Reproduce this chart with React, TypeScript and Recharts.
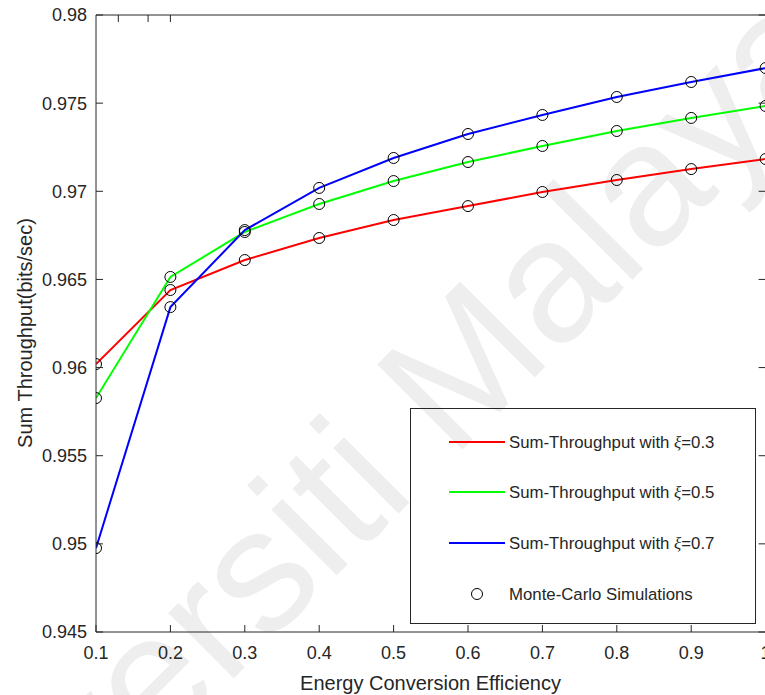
import React from 'react';
import { LineChart, Line, XAxis, YAxis } from 'recharts';

const efficiency = [0.1, 0.2, 0.3, 0.4, 0.5, 0.6, 0.7, 0.8, 0.9, 1.0];
const throughputXi03 = [0.9602, 0.9644, 0.9661, 0.96735, 0.96837, 0.96916, 0.96996, 0.97064, 0.97126, 0.97183];
const throughputXi05 = [0.95827, 0.96514, 0.96769, 0.96928, 0.97058, 0.97166, 0.97257, 0.97342, 0.97416, 0.97484];
const throughputXi07 = [0.94976, 0.96343, 0.9678, 0.97019, 0.97189, 0.97325, 0.97433, 0.97535, 0.9762, 0.97699];
const xTicks = [0.1, 0.2, 0.3, 0.4, 0.5, 0.6, 0.7, 0.8, 0.9, 1.0];
const yTicks = [0.945, 0.95, 0.955, 0.96, 0.965, 0.97, 0.975, 0.98];
const seriesNames = ['0.3', '0.5', '0.7'];
const seriesColors = ['#ff0000', '#00ff00', '#0000ff'];

const data = efficiency.map((e, i) => ({
  eff: e,
  xi03: throughputXi03[i],
  xi05: throughputXi05[i],
  xi07: throughputXi07[i],
}));

const FONT = '"Liberation Sans", Arial, Helvetica, sans-serif';
const AXIS = '#262626';
const TICK_LEN = 7;

const fmtX = (v: number) => String(Math.round(v * 10) / 10);
const fmtY = (v: number) => String(Math.round(v * 1000) / 1000);

const BottomTick = (props: any) => {
  const { x, y, payload } = props;
  const axisY = y - 14;
  return (
    <g>
      <line x1={x} x2={x} y1={axisY} y2={axisY - TICK_LEN} stroke={AXIS} strokeWidth={1} />
      <text x={x} y={y} dy="0.71em" textAnchor="middle" fontSize={18} fontFamily={FONT} fill={AXIS}>
        {fmtX(payload.value)}
      </text>
    </g>
  );
};

const LeftTick = (props: any) => {
  const { x, y, payload } = props;
  const axisX = x + 9;
  return (
    <g>
      <line x1={axisX} x2={axisX + TICK_LEN} y1={y} y2={y} stroke={AXIS} strokeWidth={1} />
      <text x={x} y={y} dy="0.355em" textAnchor="end" fontSize={18} fontFamily={FONT} fill={AXIS}>
        {fmtY(payload.value)}
      </text>
    </g>
  );
};

const TopTick = (props: any) => {
  const { x, y } = props;
  return <line x1={x} x2={x} y1={y} y2={y + TICK_LEN} stroke={AXIS} strokeWidth={1} />;
};

const RightTick = (props: any) => {
  const { x, y } = props;
  return <line x1={x} x2={x - TICK_LEN} y1={y} y2={y} stroke={AXIS} strokeWidth={1} />;
};

const LegendBox = () => {
  const rows = [34, 84, 135, 186];
  return (
    <svg width={346} height={216} style={{ display: 'block' }}>
      <rect x={0.5} y={0.5} width={345} height={215} fill="none" stroke={AXIS} strokeWidth={1} />
      {seriesNames.map((n, i) => (
        <g key={n}>
          <line x1={39} x2={95} y1={rows[i]} y2={rows[i]} stroke={seriesColors[i]} strokeWidth={2} />
          <text x={99} y={rows[i] + 6} fontSize={16.8} fontFamily={FONT} fill={AXIS}>
            Sum-Throughput with <tspan fontFamily='"Liberation Serif", "Times New Roman", serif' fontStyle="italic">ξ</tspan>={n}
          </text>
        </g>
      ))}
      <circle cx={67} cy={rows[3]} r={5.5} fill="none" stroke="#000" strokeWidth={1} />
      <text x={99} y={rows[3] + 6} fontSize={16.8} fontFamily={FONT} fill={AXIS}>
        Monte-Carlo Simulations
      </text>
    </svg>
  );
};

const dotStyle = { r: 5.5, stroke: '#000', strokeWidth: 1, fill: 'none' };

export default function App() {
  return (
    <div style={{ position: 'absolute', left: 0, top: 0, width: 765, height: 695, overflow: 'hidden', background: '#fff', fontFamily: FONT }}>
      <svg style={{ position: 'absolute', left: 0, top: 0 }} width={765} height={695}>
        <text x={-91} y={1003} transform="rotate(-45 -91 1003)" fontSize={175} fontFamily={FONT} fill="#eeeeee">
          Universiti Malaya
        </text>
      </svg>
      <div style={{ position: 'absolute', left: 0, top: 0 }}>
        <LineChart width={790} height={695} data={data} margin={{ top: 14, right: 23.4, left: 36, bottom: 33 }}>
          <XAxis
            xAxisId="b"
            dataKey="eff"
            type="number"
            domain={[0.1, 1]}
            ticks={xTicks}
            allowDataOverflow
            height={30}
            tickSize={0}
            tickMargin={14}
            tickLine={false}
            stroke={AXIS}
            tick={<BottomTick />}
          />
          <XAxis
            xAxisId="t"
            orientation="top"
            type="number"
            domain={[0.1, 1]}
            ticks={xTicks}
            allowDataOverflow
            height={1}
            tickSize={0}
            tickMargin={0}
            tickLine={false}
            stroke={AXIS}
            tick={<TopTick />}
          />
          <YAxis
            yAxisId="l"
            type="number"
            domain={[0.945, 0.98]}
            ticks={yTicks}
            allowDataOverflow
            width={60}
            tickSize={0}
            tickMargin={9}
            tickLine={false}
            stroke={AXIS}
            tick={<LeftTick />}
          />
          <YAxis
            yAxisId="r"
            orientation="right"
            type="number"
            domain={[0.945, 0.98]}
            ticks={yTicks}
            allowDataOverflow
            width={1}
            tickSize={0}
            tickMargin={0}
            tickLine={false}
            stroke={AXIS}
            tick={<RightTick />}
          />
          <Line xAxisId="b" yAxisId="l" dataKey="xi03" stroke={seriesColors[0]} strokeWidth={2} dot={false} isAnimationActive={false} />
          <Line xAxisId="b" yAxisId="l" dataKey="xi05" stroke={seriesColors[1]} strokeWidth={2} dot={false} isAnimationActive={false} />
          <Line xAxisId="b" yAxisId="l" dataKey="xi07" stroke={seriesColors[2]} strokeWidth={2} dot={false} isAnimationActive={false} />
          <Line xAxisId="b" yAxisId="l" dataKey="xi03" stroke="none" dot={dotStyle} activeDot={false} legendType="none" isAnimationActive={false} />
          <Line xAxisId="b" yAxisId="l" dataKey="xi05" stroke="none" dot={dotStyle} activeDot={false} legendType="none" isAnimationActive={false} />
          <Line xAxisId="b" yAxisId="l" dataKey="xi07" stroke="none" dot={dotStyle} activeDot={false} legendType="none" isAnimationActive={false} />
        </LineChart>
      </div>
      <div style={{ position: 'absolute', left: 410, top: 408 }}>
        <LegendBox />
      </div>
      <div style={{ position: 'absolute', left: 430.5, top: 673, transform: 'translateX(-50%)', whiteSpace: 'nowrap', fontSize: 20, lineHeight: 1, color: AXIS }}>
        Energy Conversion Efficiency
      </div>
      <div style={{ position: 'absolute', left: 25, top: 332.5, transform: 'translate(-50%, -50%) rotate(-90deg)', whiteSpace: 'nowrap', fontSize: 20, lineHeight: 1, color: AXIS }}>
        Sum Throughput(bits/sec)
      </div>
    </div>
  );
}
